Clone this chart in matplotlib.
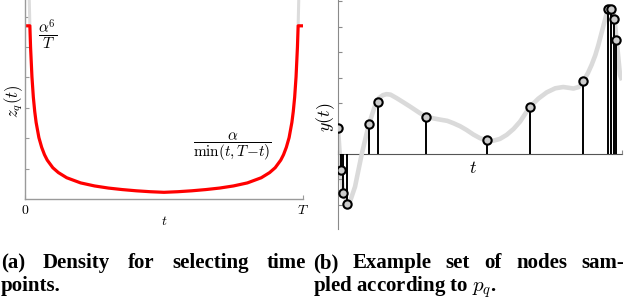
import matplotlib
matplotlib.use('Agg')
import matplotlib.pyplot as plt

plt.rcParams['mathtext.fontset'] = 'cm'

# (a) density z_q(t), t in units of T
t_density = [0.0, 0.0175, 0.02, 0.025, 0.03, 0.035, 0.04, 0.05, 0.06, 0.07, 0.08,
             0.10, 0.12, 0.15, 0.20, 0.25, 0.30, 0.35, 0.40, 0.45, 0.50,
             0.55, 0.60, 0.65, 0.70, 0.75, 0.80, 0.85, 0.88, 0.90, 0.92,
             0.93, 0.94, 0.95, 0.96, 0.965, 0.97, 0.975, 0.98, 0.9825, 1.0]
z_density = [57.0, 57.0, 50.0, 40.2, 33.5, 28.8, 25.2, 20.2, 17.0, 14.6, 12.8,
             10.3, 8.7, 7.0, 5.3, 4.3, 3.6, 3.1, 2.7, 2.4, 2.2,
             2.4, 2.7, 3.1, 3.6, 4.3, 5.3, 7.0, 8.7, 10.3, 12.8,
             14.6, 17.0, 20.2, 25.2, 28.8, 33.5, 40.2, 50.0, 57.0, 57.0]
# unclipped continuation (light grey) near both ends
t_unclip_left = [0.0153, 0.0175]
t_unclip_right = [0.9825, 0.9847]
z_unclip = [65.5, 57.0]
z_unclip_right = [57.0, 65.5]
z_ticks = [10, 20, 30, 40, 50, 60]

# (b) underlying signal y(t) and sampled nodes
curve_t = [0.0, 0.0095, 0.0187, 0.0363, 0.0599, 0.0835, 0.1067, 0.120, 0.132,
           0.145, 0.158, 0.171, 0.185, 0.207, 0.230, 0.254, 0.289, 0.309, 0.335,
           0.359, 0.385, 0.406, 0.430, 0.453, 0.477, 0.50, 0.523, 0.547, 0.570,
           0.594, 0.618, 0.641, 0.675, 0.705, 0.735, 0.765, 0.793, 0.812, 0.829,
           0.848, 0.864, 0.880, 0.893, 0.906, 0.917, 0.934, 0.948, 0.958, 0.966,
           0.972, 0.981, 0.993, 1.0]
curve_y = [1.02, -0.62, -1.52, -2.07, -1.29, -0.01, 1.07, 1.55, 1.95,
           2.20, 2.31, 2.35, 2.33, 2.19, 2.03, 1.86, 1.60, 1.48, 1.40,
           1.35, 1.30, 1.21, 1.09, 0.94, 0.76, 0.62, 0.53, 0.52, 0.59,
           0.75, 0.98, 1.27, 1.84, 2.17, 2.42, 2.58, 2.63, 2.60, 2.57,
           2.63, 2.87, 3.18, 3.50, 3.88, 4.29, 5.01, 5.60, 5.80, 5.72,
           5.47, 4.49, 3.10, 2.90]
node_t = [0.001, 0.0095, 0.0187, 0.0306, 0.110, 0.141, 0.309, 0.526,
          0.675, 0.864, 0.951, 0.962, 0.972, 0.980]
node_y = [1.00, -0.62, -1.52, -1.96, 1.16, 2.04, 1.45, 0.55,
          1.83, 2.87, 5.71, 5.69, 5.32, 4.47]
y_ticks = [-2, -1, 0, 1, 2, 3, 4, 5, 6]

W, H = 626, 302
fig = plt.figure(figsize=(W / 100, H / 100), dpi=100)


def px(x, y):
    return x / W, 1 - y / H


# ---- left panel
ax1 = fig.add_axes([25 / W, 1 - 199 / H, 278 / W, 199 / H])
ax1.plot(t_unclip_left, z_unclip, color='#dcdcdc', lw=2.2, solid_capstyle='butt')
ax1.plot(t_unclip_right, z_unclip_right, color='#dcdcdc', lw=2.2, solid_capstyle='butt')
ax1.plot(t_density, z_density, color='red', lw=2.3, solid_joinstyle='round')
ax1.set_xlim(0, 1)
ax1.set_ylim(0, 65.5)
for s in ['top', 'right']:
    ax1.spines[s].set_visible(False)
for s in ['left', 'bottom']:
    ax1.spines[s].set_color('#9a9a9a')
    ax1.spines[s].set_linewidth(1.0)
ax1.set_yticks(z_ticks)
ax1.set_yticklabels([])
ax1.set_xticks([0, 1])
ax1.set_xticklabels(['$0$', '$T$'], fontsize=10)
ax1.tick_params(direction='in', length=3, color='#9a9a9a', width=0.8, pad=3)
fig.text(*px(48, 34), r'$\dfrac{\alpha^6}{T}$', fontsize=11, ha='center', va='center')
fig.text(*px(232, 147), r'$\dfrac{\alpha}{\mathrm{min}(t,T\!-\!t)}$', fontsize=11,
         ha='center', va='center')
fig.text(*px(164, 221), '$t$', fontsize=10, ha='center', va='center')
fig.text(*px(14, 101), '$z_q(t)$', fontsize=12, rotation=90, ha='center', va='center')

# ---- right panel
ax2 = fig.add_axes([338 / W, 1 - 229 / H, 284 / W, 229 / H])
ax2.plot(curve_t, curve_y, color='#dadada', lw=3.3, solid_capstyle='butt',
         solid_joinstyle='round', zorder=1)
ax2.vlines(node_t, 0, node_y, color='black', lw=1.4, zorder=2)
ax2.plot(node_t, node_y, 'o', ms=6, mfc='#cccccc', mec='black', mew=1.5, zorder=3)
ax2.set_xlim(0, 1)
ax2.set_ylim(-2.95, 6.05)
for s in ['top', 'right']:
    ax2.spines[s].set_visible(False)
ax2.spines['left'].set_color('#8a8a8a')
ax2.spines['bottom'].set_position(('data', 0))
ax2.spines['bottom'].set_color('#555555')
ax2.spines['bottom'].set_zorder(0.5)
ax2.set_yticks(y_ticks)
ax2.set_yticklabels([])
ax2.set_xticks([0, 1])
ax2.set_xticklabels([])
ax2.tick_params(direction='in', length=3, color='#8a8a8a', width=0.8)
ax2.text(0.475, -0.55, '$t$', fontsize=13, ha='center', va='center')
fig.text(*px(326, 117), '$y(t)$', fontsize=13, rotation=90, ha='center', va='center')

# ---- captions (first lines justified word by word)
cap_font = dict(family='Liberation Serif', weight='bold', fontsize=15)
renderer = fig.canvas.get_renderer()


def justified(words, x0, x1, y):
    texts = [fig.text(0, 1 - y / H, w, ha='left', va='baseline', **cap_font) for w in words]
    widths = [t.get_window_extent(renderer).width for t in texts]
    gap = (x1 - x0 - sum(widths)) / (len(words) - 1)
    x = x0
    for t, w in zip(texts, widths):
        t.set_x(x / W)
        x += w + gap


justified(['(a)', 'Density', 'for', 'selecting', 'time'], 1, 306, 268)
fig.text(1 / W, 1 - 291 / H, 'points.', ha='left', va='baseline', **cap_font)
justified(['(b)', 'Example', 'set', 'of', 'nodes', 'sam-'], 313, 624, 268)
fig.text(313 / W, 1 - 291 / H, r'pled according to $p_q$.', ha='left', va='baseline',
         **cap_font)

fig.savefig('out.png', dpi=100)
